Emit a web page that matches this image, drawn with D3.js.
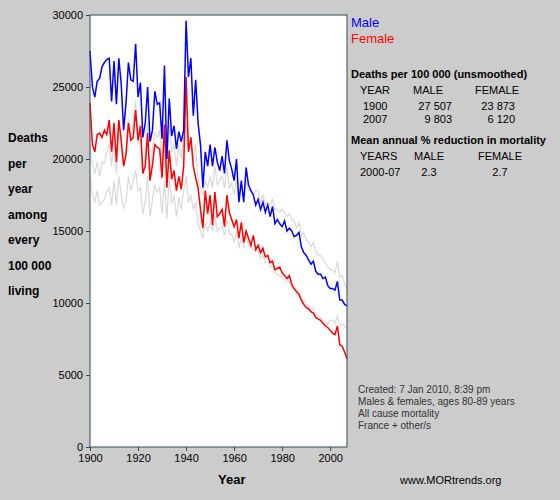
<!DOCTYPE html><html><head><script src="https://cdn.jsdelivr.net/npm/d3@7"></script>
<style>body{margin:0;background:#cccccc}text{font-family:Arial,"Liberation Sans",sans-serif}</style></head><body>
<svg id="c" width="560" height="500"></svg>
<script>
const startYear=1900;
const male=[27507,25000,24300,25400,25600,26400,26700,26900,27000,24000,
26800,23800,27000,25200,22000,23900,26700,25500,25400,28000,
24300,25300,21500,22500,25000,21200,22000,24700,23800,23900,
21400,26500,20000,24200,21600,22300,20700,21900,21200,22000,
29600,25700,27000,23000,25500,22500,21000,18000,20500,19500,
21000,19500,20800,19800,19200,20200,19000,21300,19900,19300,
18500,20000,17000,18500,17000,19400,18200,17800,17500,16800,
17200,16500,17000,16300,16800,16000,16700,15500,15800,15500,
15300,15700,15000,15200,15000,14600,14700,14900,13900,13500,
13300,13000,12700,12900,12200,12000,12000,11700,11800,11200,
11000,11000,10900,11500,10200,10200,9900,9803];
const female=[23873,21000,20500,21700,21800,21500,22000,21700,22700,20500,
22500,19800,22700,21300,19500,20300,22500,21300,21500,23400,
21300,22300,19000,19500,21800,18500,19600,21000,20800,20700,
18700,22400,18000,20600,18600,19200,17800,18800,17900,19500,
25700,20500,21500,19500,18700,18000,16500,15200,17800,16200,
17500,15400,17700,16000,16200,16500,15300,17500,16300,15800,
15300,15800,14500,15600,14200,15000,14500,14000,14700,13700,
14000,13500,13800,13200,13300,12800,12900,12300,12400,12500,
12100,11900,11700,11900,11300,11000,10800,10600,10200,9900,
9700,9600,9400,9300,9000,8900,8800,8600,8400,8300,
8100,7900,7800,8400,7100,7000,6600,6120];
const otherMale=[20800,19500,19000,19800,18800,19800,19700,20500,21000,19500,
21500,19000,22000,20800,19500,20500,22800,21500,22500,24000,
21000,21500,19000,20500,22500,19000,20800,21800,21500,22000,
19500,22000,19000,22500,20500,21000,19500,21000,20000,21500,
22500,20500,21500,20000,21000,18500,18000,17500,18500,18000,
18800,18000,19500,18200,18500,18800,18000,19500,18000,18300,
17500,18700,17000,18200,17300,18500,17800,17800,17500,17800,
17800,17000,17500,16800,17000,16800,17200,16500,16500,16300,
16500,16300,16000,16200,15800,15700,15200,15600,14700,14900,
14400,14200,13900,14200,13600,13300,13300,13000,12800,12500,
12300,12300,12100,12900,11800,11900,11300,11000];
const otherFemale=[18900,17500,17000,17800,16800,17000,17200,17700,18000,16800,
18500,16800,18800,17500,16600,17000,18800,17800,18500,19200,
17800,18000,16200,17000,18800,16000,17200,18200,17700,18000,
16200,18500,15800,18800,16900,17500,16000,17300,16500,17800,
18800,17000,17500,16500,17000,15500,15000,14500,15600,15000,
15600,15000,16000,15000,15200,15300,14700,15800,14800,14800,
14200,15000,13800,14600,13800,14700,14000,13900,13700,13700,
13600,13100,13300,12800,12900,12500,12700,12100,12000,11900,
11800,11600,11400,11500,11100,10900,10600,10700,10200,10200,
9900,9800,9500,9600,9200,9100,9000,8800,8700,8500,
8800,8800,8600,9100,8500,8500,8400,8200];
const yTicks=[0,5000,10000,15000,20000,25000,30000];
const xTicks=[1900,1920,1940,1960,1980,2000];
const yLabelLines=["Deaths","per","year","among","every","100 000","living"];
const tableRows=[["YEAR","MALE","FEMALE"],["1900","27 507","23 873"],["2007","9 803","6 120"]];
const redRows=[["YEARS","MALE","FEMALE"],["2000-07","2.3","2.7"]];
const notes=["Created: 7 Jan 2010, 8:39 pm","Males & females, ages 80-89 years","All cause mortality","France + other/s"];

const svg=d3.select("#c");
const L=90,R=347,T=15,B=447;
const x=d3.scaleLinear().domain([1900,2007]).range([L,R]);
const y=d3.scaleLinear().domain([0,30000]).range([B,T]);
svg.append("rect").attr("x",L).attr("y",T).attr("width",R-L).attr("height",B-T).attr("fill","#fff");
const line=d3.line().x((d,i)=>x(startYear+i)).y(d=>y(d));
[[otherMale,"#d9d9d9"],[otherFemale,"#d9d9d9"],[female,"#ff0000"],[male,"#0000ff"]].forEach(([s,c])=>{
 svg.append("path").datum(s).attr("d",line).attr("fill","none").attr("stroke",c).attr("stroke-width",c=="#d9d9d9"?1.2:1.5);
});
svg.append("rect").attr("x",L).attr("y",T).attr("width",R-L).attr("height",B-T).attr("fill","none").attr("stroke","#2f4f4f");
const ya=svg.append("g").attr("transform",`translate(${L},0)`).call(d3.axisLeft(y).tickValues(yTicks).tickSize(4).tickFormat(d3.format("d")));
const xa=svg.append("g").attr("transform",`translate(0,${B})`).call(d3.axisBottom(x).tickValues(xTicks).tickSize(4).tickFormat(d3.format("d")));
[ya,xa].forEach(a=>{a.select(".domain").remove();a.selectAll("line").attr("stroke","#2f4f4f");a.selectAll("text").attr("font-size",11).attr("fill","#000").style("font-family","Arial");});
svg.append("text").attr("x",218).attr("y",484).attr("font-weight","bold").attr("font-size",13).text("Year");
yLabelLines.forEach((t,i)=>svg.append("text").attr("x",8).attr("y",142+i*25.5).attr("font-weight","bold").attr("font-size",12).text(t));
svg.append("text").attr("x",351).attr("y",27).attr("fill","#0000ff").attr("font-size",13).text("Male");
svg.append("text").attr("x",351).attr("y",43).attr("fill","#ff0000").attr("font-size",13).text("Female");
svg.append("text").attr("x",351).attr("y",78).attr("font-weight","bold").attr("font-size",11).text("Deaths per 100 000 (unsmoothed)");
tableRows.forEach((r,i)=>r.forEach((t,j)=>{
 let xx=j==0?(i==0?360:363):(j==1?(i==0?428:452):(i==0?497:515));
 svg.append("text").attr("x",xx).attr("y",i==0?94:(i==1?110:123)).attr("text-anchor",j==0||i==0?(j==0?"start":"middle"):"end").attr("font-size",11).text(t);
}));
svg.append("text").attr("x",351).attr("y",144).attr("font-weight","bold").attr("font-size",11).text("Mean annual % reduction in mortality");
redRows.forEach((r,i)=>r.forEach((t,j)=>{
 svg.append("text").attr("x",j==0?360:(j==1?429:500)).attr("y",i==0?160:176).attr("text-anchor",j==0?"start":"middle").attr("font-size",11).text(t);
}));
notes.forEach((t,i)=>svg.append("text").attr("x",358).attr("y",393+i*12).attr("font-size",10).attr("fill","#333").text(t));
svg.append("text").attr("x",400).attr("y",484).attr("font-size",11).text("www.MORtrends.org");
</script></body></html>
